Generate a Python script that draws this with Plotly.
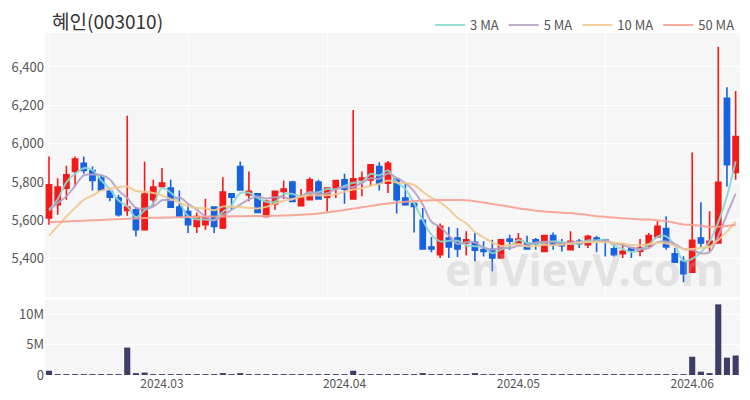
import pandas as pd
import plotly.graph_objects as go

title_text = "혜인(003010)"

# Trading days (KRX), Feb 13 - Jun 11 2024
holidays = ["2024-03-01", "2024-04-10", "2024-05-01", "2024-05-06", "2024-05-15", "2024-06-06"]
dates = [d.strftime("%Y-%m-%d") for d in pd.bdate_range("2024-02-13", "2024-06-11")
         if d.strftime("%Y-%m-%d") not in holidays]

open_ = [5612, 5681, 5768, 5855, 5898, 5860, 5820, 5751, 5716, 5652,
         5655, 5551, 5707, 5777, 5768, 5669, 5646, 5568, 5577, 5669,
         5560, 5738, 5881, 5733, 5738, 5620, 5686, 5751, 5799, 5676,
         5707, 5799, 5721, 5768, 5811, 5711, 5811, 5811, 5881, 5794,
         5815, 5716, 5687, 5600, 5461, 5421, 5508, 5508, 5482, 5485,
         5447, 5447, 5404, 5503, 5478, 5482, 5499, 5438, 5520, 5482,
         5447, 5491, 5473, 5508, 5499, 5451, 5426, 5456, 5439, 5465,
         5513, 5557, 5426, 5386, 5329, 5508, 5473, 5482, 6237, 5850]
high = [5933, 5820, 5884, 5933, 5933, 5881, 5837, 5768, 5733, 6145,
        5669, 5905, 5811, 5873, 5811, 5756, 5681, 5641, 5712, 5669,
        5825, 5740, 5907, 5855, 5741, 5707, 5751, 5808, 5806, 5763,
        5825, 5811, 5768, 5808, 5843, 6176, 5855, 5889, 5903, 5910,
        5820, 5794, 5690, 5664, 5513, 5583, 5565, 5560, 5543, 5534,
        5491, 5499, 5499, 5525, 5534, 5520, 5508, 5520, 5537, 5503,
        5543, 5503, 5525, 5520, 5499, 5473, 5482, 5456, 5503, 5534,
        5595, 5621, 5456, 5413, 5954, 5694, 5647, 6505, 6294, 6275]
low = [5577, 5629, 5707, 5777, 5843, 5756, 5756, 5699, 5620, 5624,
       5516, 5545, 5673, 5768, 5664, 5615, 5534, 5534, 5551, 5534,
       5555, 5655, 5759, 5699, 5641, 5615, 5655, 5711, 5699, 5672,
       5703, 5711, 5646, 5716, 5686, 5708, 5725, 5777, 5756, 5742,
       5635, 5676, 5537, 5451, 5433, 5404, 5404, 5409, 5416, 5386,
       5412, 5334, 5400, 5447, 5476, 5451, 5447, 5433, 5447, 5438,
       5445, 5456, 5456, 5433, 5412, 5412, 5404, 5404, 5413, 5463,
       5511, 5447, 5378, 5277, 5327, 5461, 5439, 5478, 5777, 5812]
close = [5785, 5773, 5837, 5919, 5860, 5808, 5759, 5721, 5629, 5669,
         5551, 5737, 5773, 5794, 5669, 5620, 5577, 5620, 5617, 5568,
         5747, 5721, 5759, 5751, 5641, 5699, 5751, 5763, 5699, 5716,
         5811, 5711, 5768, 5808, 5763, 5817, 5820, 5889, 5794, 5898,
         5708, 5681, 5673, 5451, 5451, 5569, 5461, 5451, 5499, 5444,
         5438, 5404, 5499, 5491, 5503, 5451, 5478, 5520, 5473, 5468,
         5491, 5478, 5517, 5491, 5491, 5421, 5439, 5444, 5456, 5520,
         5569, 5461, 5381, 5322, 5496, 5482, 5491, 5798, 5890, 6037]
volume = [700000, 120000, 110000, 130000, 100000, 90000, 110000, 80000, 120000, 4500000,
          250000, 400000, 110000, 90000, 80000, 90000, 100000, 70000, 80000, 90000,
          300000, 100000, 300000, 90000, 80000, 70000, 90000, 80000, 70000, 80000,
          90000, 80000, 70000, 80000, 90000, 700000, 120000, 100000, 90000, 110000,
          100000, 80000, 90000, 150000, 90000, 100000, 80000, 90000, 80000, 150000,
          80000, 90000, 70000, 80000, 90000, 70000, 80000, 90000, 80000, 70000,
          80000, 70000, 90000, 80000, 70000, 80000, 70000, 80000, 90000, 80000,
          90000, 100000, 90000, 110000, 3000000, 550000, 300000, 11600000, 2850000, 3200000]

# moving-average values before enough in-window closes exist
ma3_head = [5655, 5710]
ma5_head = [5650, 5690, 5725, 5780]
ma10_head = [5520, 5570, 5620, 5665, 5707, 5730, 5755, 5765, 5773]
ma50_head = [5590, 5592, 5594, 5596, 5598, 5600, 5602, 5604, 5606, 5608,
             5610, 5612, 5613, 5614, 5615, 5616, 5617, 5618, 5619, 5620,
             5620, 5621, 5621, 5622, 5622, 5623, 5624, 5625, 5627, 5629,
             5632, 5636, 5641, 5647, 5654, 5661, 5668, 5675, 5682, 5688,
             5693, 5697, 5700, 5703, 5705, 5706, 5706, 5706, 5705]

tick_dates = ["2024-03-04", "2024-04-02", "2024-05-02", "2024-06-03"]
tick_text = ["2024.03", "2024.04", "2024.05", "2024.06"]
price_ticks = [5400, 5600, 5800, 6000, 6200, 6400]
vol_ticks = [0, 5000000, 10000000]
vol_tick_text = ["0", "5M", "10M"]


def moving_avg(n, head):
    return head + [sum(close[i - n + 1:i + 1]) / n for i in range(n - 1, len(close))]


ma_specs = [("3 MA", 3, ma3_head, "#8ad8cf"),
            ("5 MA", 5, ma5_head, "#b4a2c8"),
            ("10 MA", 10, ma10_head, "#f2c98f"),
            ("50 MA", 50, ma50_head, "#f6a092")]

FONT = "Noto Sans CJK KR"
fig = go.Figure()

fig.add_trace(go.Candlestick(
    x=dates, open=open_, high=high, low=low, close=close,
    increasing=dict(line=dict(color="#f51a1a", width=1.6), fillcolor="#f51a1a"),
    decreasing=dict(line=dict(color="#1662e0", width=1.6), fillcolor="#1662e0"),
    whiskerwidth=0, showlegend=False, xaxis="x", yaxis="y", hoverinfo="skip"))

for name, n, head, col in ma_specs:
    fig.add_trace(go.Scatter(
        x=dates, y=moving_avg(n, head), mode="lines", name=name,
        line=dict(color=col, width=2, shape="spline", smoothing=1.0),
        opacity=0.9, xaxis="x", yaxis="y", hoverinfo="skip"))

fig.add_trace(go.Bar(
    x=dates, y=volume, marker=dict(color="#3d3d68", line=dict(width=0)),
    width=0.7, showlegend=False, xaxis="x2", yaxis="y2", hoverinfo="skip"))

xrange = [-0.46, len(dates) - 0.5]
fig.update_layout(
    width=750, height=400,
    margin=dict(l=45, r=10, t=33, b=25, autoexpand=False),
    paper_bgcolor="white", plot_bgcolor="#f6f6f6",
    font=dict(family=FONT, size=12, color="#555555"),
    boxgap=0.15,
    title=dict(text=title_text, xref="container", x=52 / 750, xanchor="left",
               yref="container", y=1 - 22 / 400, yanchor="middle",
               font=dict(family=FONT, size=19, color="#333333")),
    showlegend=True,
    legend=dict(orientation="h", xref="container", x=740 / 750, xanchor="right",
                yref="container", y=1 - 25 / 400, yanchor="middle",
                font=dict(family=FONT, size=13, color="#555555"),
                bgcolor="rgba(0,0,0,0)", itemwidth=30, traceorder="normal"),
    xaxis=dict(type="category", domain=[0, 1], range=xrange, anchor="y",
               rangeslider=dict(visible=False), automargin=False,
               tickmode="array", tickvals=dates[::16], showticklabels=False,
               showgrid=True, gridcolor="white", gridwidth=1, zeroline=False,
               showline=False, ticks=""),
    yaxis=dict(domain=[0.228, 1], range=[5200, 6577], tickvals=price_ticks,
               tickformat=",", showgrid=True, gridcolor="white", gridwidth=1,
               zeroline=False, ticks="", automargin=False,
               tickfont=dict(size=13, color="#555555")),
    xaxis2=dict(type="category", domain=[0, 1], range=xrange, anchor="y2",
                matches="x", tickmode="array", tickvals=tick_dates, ticktext=tick_text,
                showgrid=False, zeroline=False, showline=False, ticks="", automargin=False,
                tickfont=dict(size=12, color="#555555")),
    yaxis2=dict(domain=[0, 0.219], range=[0, 12300000], tickvals=vol_ticks,
                ticktext=vol_tick_text, showgrid=True, gridcolor="white", gridwidth=1,
                zeroline=False, ticks="", automargin=False,
                tickfont=dict(size=13, color="#555555")),
    annotations=[dict(text="<b>enVievV.com</b>", xref="paper", yref="paper", x=0.776, y=0.31,
                      xanchor="center", yanchor="middle", showarrow=False,
                      font=dict(family="Noto Sans", size=44, color="rgba(175,175,175,0.30)"))],
)

fig.write_html("out.html", config={"displayModeBar": False},
               post_script="document.body.style.margin='0';document.body.style.overflow='hidden';")
